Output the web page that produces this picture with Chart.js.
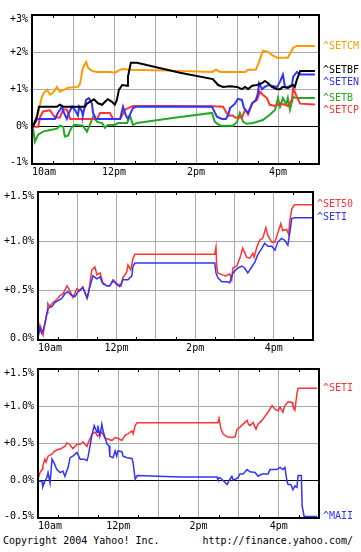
<!DOCTYPE html>
<html><head><meta charset="utf-8">
<script src="https://cdn.jsdelivr.net/npm/chart.js@4/dist/chart.umd.min.js"></script>
<style>
html,body{margin:0;padding:0;background:#fff;width:361px;height:552px;overflow:hidden;position:relative;}
canvas{position:absolute;left:0;}
.txt{position:absolute;font:10px "DejaVu Sans Mono",monospace;color:#000;white-space:pre;line-height:12px;}
</style></head><body>
<canvas id="c1" width="361" height="180" style="top:0px"></canvas>
<canvas id="c2" width="361" height="180" style="top:180px"></canvas>
<canvas id="c3" width="361" height="172" style="top:360px"></canvas>
<div class="txt" style="left:3px;top:535px">Copyright 2004 Yahoo! Inc.</div>
<div class="txt" style="right:8px;top:535px">http://finance.yahoo.com/</div>
<script>
// ---------- data (time in decimal hours, value in %) ----------
const xTickHours = [10, 12, 14, 16];
const xTickLabels = ['10am', '12pm', '2pm', '4pm'];

const p1TickValues = [-1, 0, 1, 2, 3];
const p1TickLabels = ['-1%', '0%', '+1%', '+2%', '+3%'];
const p2TickValues = [0, 0.5, 1, 1.5];
const p2TickLabels = ['0.0%', '+0.5%', '+1.0%', '+1.5%'];
const p3TickValues = [-0.5, 0, 0.5, 1, 1.5];
const p3TickLabels = ['-0.5%', '0.0%', '+0.5%', '+1.0%', '+1.5%'];

const SETCM = [[10.02,0],[10.10,0.20],[10.15,0.37],[10.24,0.80],[10.29,0.91],[10.37,0.99],[10.44,0.86],[10.51,0.91],[10.61,1.07],[10.68,0.94],[10.78,0.99],[10.88,1.05],[11.12,1.07],[11.17,1.15],[11.24,1.58],[11.32,1.74],[11.37,1.58],[11.46,1.50],[11.59,1.47],[11.90,1.47],[12.02,1.45],[12.10,1.50],[12.20,1.55],[12.39,1.53],[13.61,1.50],[14.39,1.47],[14.49,1.53],[14.59,1.47],[15.20,1.47],[15.27,1.53],[15.46,1.53],[15.54,1.74],[15.63,2.04],[15.76,2.01],[15.85,1.93],[15.98,1.85],[16.24,1.85],[16.37,2.12],[16.46,2.17],[16.90,2.17]];
const SETBF = [[10.02,0],[10.12,0.27],[10.17,0.54],[10.61,0.54],[10.68,0.59],[10.76,0.54],[11.29,0.54],[11.34,0.62],[11.41,0.67],[11.51,0.74],[11.61,0.63],[11.71,0.59],[11.78,0.67],[11.85,0.74],[11.95,0.67],[12.02,0.59],[12.07,0.72],[12.12,0.99],[12.20,1.12],[12.32,1.10],[12.34,1.34],[12.41,1.72],[12.56,1.72],[13.61,1.45],[14.41,1.28],[14.54,1.12],[14.66,1.07],[14.83,1.09],[15.00,1.07],[15.12,1.01],[15.20,1.07],[15.27,1.01],[15.37,1.10],[15.49,1.12],[15.61,1.17],[15.68,1.23],[15.76,1.17],[15.85,1.07],[15.98,1.01],[16.05,1.01],[16.12,1.07],[16.24,1.04],[16.37,1.12],[16.41,1.07],[16.46,1.26],[16.54,1.50],[16.90,1.50]];
const SETEN = [[10.02,0],[10.12,0.20],[10.15,0.21],[10.56,0.21],[10.63,0.37],[10.73,0.54],[10.78,0.37],[10.85,0.21],[10.90,0.37],[10.98,0.54],[11.05,0.45],[11.12,0.30],[11.15,0.54],[11.22,0.41],[11.24,0.30],[11.32,0.72],[11.39,0.77],[11.46,0.63],[11.49,0.37],[11.56,0.21],[12.15,0.21],[12.22,0.54],[12.29,0.30],[12.34,0.21],[12.41,0.38],[12.46,0.50],[12.56,0.54],[14.39,0.54],[14.51,0.27],[14.63,0.21],[14.73,0.21],[14.78,0.30],[14.83,0.50],[14.95,0.62],[15.02,0.75],[15.12,0.72],[15.17,0.50],[15.27,0.37],[15.37,0.63],[15.46,0.72],[15.51,0.90],[15.54,1.17],[15.61,1.01],[15.68,1.07],[15.76,1.12],[15.98,1.07],[16.05,1.21],[16.12,1.40],[16.17,1.07],[16.24,1.07],[16.34,1.12],[16.37,1.34],[16.46,1.47],[16.54,1.40],[16.90,1.40]];
const SETB = [[10.02,0],[10.07,-0.40],[10.15,-0.21],[10.27,-0.13],[10.44,-0.09],[10.61,-0.05],[10.68,0.03],[10.76,0.00],[10.80,-0.26],[10.88,-0.24],[10.93,-0.10],[10.98,0.00],[11.05,0.05],[11.24,0.03],[11.34,-0.13],[11.41,0.05],[11.49,0.27],[11.59,0.13],[11.71,0.10],[11.78,-0.03],[11.85,0.05],[12.02,0.05],[12.10,0.10],[12.32,0.10],[12.39,0.30],[12.46,0.05],[12.56,0.10],[13.61,0.26],[14.39,0.37],[14.46,0.13],[14.59,0.03],[14.90,0.03],[15.00,0.13],[15.07,0.37],[15.15,0.13],[15.24,0.08],[15.39,0.10],[15.63,0.18],[15.80,0.32],[15.93,0.46],[16.00,0.77],[16.05,0.54],[16.12,0.77],[16.20,0.60],[16.24,0.77],[16.29,0.46],[16.37,0.80],[16.46,0.77],[16.90,0.77]];
const SETCP = [[10.02,0],[10.15,0],[10.20,0.27],[10.27,0.41],[10.44,0.44],[10.51,0.33],[10.56,0.25],[10.68,0.25],[10.76,0.46],[10.85,0.46],[10.93,0.21],[11.59,0.21],[11.66,0.37],[11.90,0.37],[11.98,0.21],[12.15,0.21],[12.27,0.46],[12.46,0.56],[13.41,0.56],[14.39,0.55],[14.66,0.54],[14.78,0.30],[14.90,0.30],[14.95,0.25],[15.12,0.25],[15.20,0.46],[15.27,0.33],[15.37,0.63],[15.49,0.72],[15.56,0.94],[15.63,0.86],[15.73,0.77],[15.80,0.59],[15.93,0.56],[16.05,0.62],[16.17,0.59],[16.24,0.56],[16.34,0.72],[16.37,1.04],[16.46,0.80],[16.54,0.62],[16.90,0.60]];

const SET50 = [[10.00,0.03],[10.05,0.15],[10.08,0.12],[10.13,0.05],[10.18,0.18],[10.23,0.27],[10.25,0.37],[10.30,0.34],[10.38,0.38],[10.48,0.41],[10.56,0.45],[10.64,0.47],[10.74,0.55],[10.81,0.50],[10.89,0.43],[10.99,0.52],[11.06,0.50],[11.14,0.54],[11.25,0.42],[11.29,0.48],[11.37,0.71],[11.45,0.74],[11.50,0.66],[11.58,0.68],[11.65,0.58],[11.75,0.55],[11.83,0.55],[11.91,0.61],[12.01,0.57],[12.08,0.56],[12.12,0.55],[12.16,0.63],[12.26,0.69],[12.29,0.76],[12.36,0.71],[12.42,0.83],[12.47,0.87],[14.50,0.87],[14.53,0.94],[14.55,0.74],[14.58,0.68],[14.63,0.67],[14.70,0.66],[14.78,0.65],[14.88,0.67],[14.93,0.61],[14.96,0.73],[15.06,0.75],[15.14,0.83],[15.21,0.93],[15.31,0.84],[15.39,0.83],[15.47,0.88],[15.50,0.84],[15.57,0.94],[15.64,1.01],[15.72,1.03],[15.80,1.14],[15.85,1.06],[15.95,0.99],[16.03,0.99],[16.10,1.08],[16.18,1.18],[16.23,1.11],[16.33,1.12],[16.38,1.07],[16.41,1.21],[16.46,1.33],[16.53,1.37],[16.99,1.37]];
const SETI_A = [[10.00,0.03],[10.05,0.12],[10.09,0.07],[10.13,0.10],[10.18,0.17],[10.25,0.32],[10.36,0.34],[10.43,0.38],[10.51,0.40],[10.60,0.42],[10.69,0.47],[10.76,0.49],[10.86,0.45],[10.94,0.44],[11.02,0.49],[11.14,0.53],[11.25,0.43],[11.32,0.54],[11.40,0.65],[11.50,0.62],[11.58,0.64],[11.65,0.57],[11.75,0.55],[11.83,0.55],[11.91,0.60],[12.01,0.56],[12.08,0.54],[12.16,0.61],[12.29,0.61],[12.39,0.65],[12.42,0.75],[12.47,0.78],[14.50,0.78],[14.53,0.68],[14.58,0.63],[14.68,0.59],[14.81,0.59],[14.88,0.58],[14.96,0.68],[15.09,0.73],[15.19,0.75],[15.26,0.73],[15.34,0.68],[15.44,0.74],[15.52,0.79],[15.59,0.86],[15.70,0.93],[15.77,0.98],[15.85,0.95],[15.95,0.95],[16.03,0.91],[16.10,0.99],[16.20,1.03],[16.28,1.01],[16.36,0.96],[16.41,1.09],[16.46,1.23],[16.53,1.24],[16.99,1.24]];

const SETI_B = [[10.00,0.02],[10.05,0.11],[10.10,0.15],[10.12,0.20],[10.17,0.29],[10.20,0.25],[10.25,0.33],[10.35,0.36],[10.42,0.40],[10.50,0.42],[10.57,0.43],[10.67,0.46],[10.72,0.51],[10.80,0.48],[10.87,0.43],[10.97,0.49],[11.05,0.49],[11.12,0.52],[11.22,0.46],[11.25,0.51],[11.35,0.63],[11.42,0.65],[11.49,0.60],[11.59,0.65],[11.67,0.57],[11.74,0.56],[11.84,0.54],[11.92,0.58],[11.99,0.57],[12.09,0.54],[12.17,0.61],[12.24,0.63],[12.34,0.67],[12.37,0.63],[12.42,0.74],[12.47,0.78],[14.48,0.78],[14.51,0.84],[14.56,0.69],[14.61,0.63],[14.71,0.59],[14.83,0.58],[14.91,0.59],[14.96,0.69],[15.03,0.72],[15.11,0.76],[15.21,0.81],[15.24,0.76],[15.28,0.74],[15.36,0.78],[15.43,0.69],[15.48,0.76],[15.58,0.81],[15.66,0.87],[15.73,0.92],[15.83,1.01],[15.90,0.96],[15.98,0.94],[16.03,0.99],[16.10,0.92],[16.15,1.01],[16.23,1.06],[16.33,1.05],[16.35,1.01],[16.40,0.95],[16.45,1.17],[16.48,1.24],[16.95,1.24]];
const MAII = [[10.00,0.00],[10.10,-0.01],[10.12,-0.08],[10.17,-0.01],[10.22,0.04],[10.25,0.11],[10.30,-0.03],[10.35,0.29],[10.40,0.24],[10.47,0.15],[10.55,0.11],[10.62,0.13],[10.67,0.06],[10.75,0.18],[10.80,0.31],[10.87,0.33],[10.97,0.38],[11.05,0.29],[11.15,0.29],[11.22,0.27],[11.25,0.33],[11.35,0.63],[11.40,0.74],[11.47,0.65],[11.49,0.74],[11.54,0.60],[11.59,0.76],[11.62,0.67],[11.67,0.58],[11.72,0.49],[11.77,0.47],[11.79,0.33],[11.87,0.31],[11.92,0.40],[11.96,0.33],[11.99,0.40],[12.09,0.39],[12.12,0.33],[12.22,0.31],[12.34,0.30],[12.37,0.24],[12.42,0.02],[12.47,0.07],[13.54,0.05],[14.46,0.05],[14.48,0.02],[14.53,0.04],[14.58,0.02],[14.71,-0.05],[14.76,0.00],[14.83,0.06],[14.86,0.01],[14.91,0.02],[14.98,0.04],[15.03,0.09],[15.11,0.09],[15.21,0.15],[15.28,0.12],[15.41,0.11],[15.48,0.06],[15.58,0.09],[15.73,0.09],[15.78,0.15],[15.95,0.15],[16.03,0.18],[16.10,0.15],[16.15,0.18],[16.20,0.00],[16.23,-0.05],[16.30,-0.05],[16.35,-0.12],[16.40,-0.07],[16.45,-0.09],[16.48,0.07],[16.56,0.07],[16.58,-0.34],[16.63,-0.48],[16.95,-0.48]];

// ---------- rendering ----------
const FONT = '"DejaVu Sans Mono", monospace';
Chart.defaults.font.family = FONT;
Chart.defaults.font.size = 10;
Chart.defaults.color = '#000';

const C = {orange:'#ff9900', black:'#000000', blue:'#3333ff', green:'#22aa22', red:'#ff3333'};

const overlay = {
  id: 'overlay',
  afterDraw(chart, args, o) {
    const ctx = chart.ctx, ca = chart.chartArea, xs = chart.scales.x, ys = chart.scales.y;
    ctx.save();
    // half-hour tick marks
    ctx.strokeStyle = '#000'; ctx.lineWidth = 1;
    ctx.beginPath();
    for (let h = 10.5; h < 17; h += 1) {
      const px = Math.round(xs.getPixelForValue(h)) + 0.5;
      ctx.moveTo(px, ca.bottom); ctx.lineTo(px, ca.bottom - 3);
      ctx.moveTo(px, ca.top); ctx.lineTo(px, ca.top + 3);
    }
    ctx.stroke();
    // frame
    ctx.lineWidth = 2;
    ctx.strokeRect(ca.left, ca.top, ca.right - ca.left, ca.bottom - ca.top);
    // y labels
    ctx.font = '10px ' + FONT; ctx.fillStyle = '#000';
    ctx.textAlign = 'right'; ctx.textBaseline = 'middle';
    o.yVals.forEach((v, i) => {
      let py = ys.getPixelForValue(v);
      py = Math.min(Math.max(py, ca.top + 4.5), ca.bottom - 1.5);
      ctx.fillText(o.yLabels[i], ca.left - 4, py);
    });
    // right-side series labels
    const items = chart.data.datasets.map(d => ({
      name: d.label, color: d.borderColor,
      y: ys.getPixelForValue(d.data[d.data.length - 1].y)
    })).sort((a, b) => a.y - b.y);
    for (let i = 1; i < items.length; i++) {
      if (items[i].y < items[i - 1].y + 12) items[i].y = items[i - 1].y + 12;
    }
    ctx.textAlign = 'left';
    items.forEach(it => { ctx.fillStyle = it.color; ctx.fillText(it.name, ca.right + 4, it.y); });
    ctx.restore();
  }
};

function makePanel(id, geo, series, yMin, yMax, yStep, yVals, yLabels, lw) {
  const cv = document.getElementById(id);
  const H = cv.height;
  const hx = 14;
  new Chart(cv, {
    type: 'line',
    data: {
      datasets: series.map(s => ({
        label: s.name,
        data: s.data.map(p => ({x: p[0], y: p[1]})),
        borderColor: s.color, backgroundColor: s.color,
        borderWidth: lw, pointRadius: 0, tension: 0, fill: false
      }))
    },
    options: {
      responsive: false, animation: false, devicePixelRatio: 1,
      events: [],
      layout: {padding: {top: geo.top, left: 0, right: 361 - geo.right, bottom: H - geo.bottom - hx}},
      plugins: {legend: {display: false}, tooltip: {enabled: false}, overlay: {yVals, yLabels}},
      scales: {
        x: {
          type: 'linear', min: 10, max: 17,
          afterFit: s => { s.height = hx; },
          border: {display: false},
          grid: {drawTicks: false, color: c => (c.tick && Number.isInteger(c.tick.value)) ? '#aaaaaa' : 'rgba(0,0,0,0)'},
          ticks: {
            stepSize: 0.5, autoSkip: false, maxRotation: 0, align: 'inner', padding: 2,
            color: '#000', font: {size: 10, family: FONT},
            callback: v => { const i = xTickHours.indexOf(v); return i >= 0 ? xTickLabels[i] : ''; }
          }
        },
        y: {
          min: yMin, max: yMax,
          afterFit: s => { s.width = geo.left; },
          border: {display: false},
          grid: {drawTicks: false, color: c => (c.tick && c.tick.value === 0) ? '#000000' : '#aaaaaa'},
          ticks: {display: false, stepSize: yStep}
        }
      }
    },
    plugins: [overlay]
  });
}

makePanel('c1', {top: 15, bottom: 164, left: 32, right: 319}, [
  {name: '^SETBF', data: SETBF, color: C.black},
  {name: '^SETEN', data: SETEN, color: C.blue},
  {name: '^SETCP', data: SETCP, color: C.red},
  {name: '^SETB', data: SETB, color: C.green},
  {name: '^SETCM', data: SETCM, color: C.orange}
], -1, 3, 1, p1TickValues, p1TickLabels, 2);

makePanel('c2', {top: 12, bottom: 160, left: 38, right: 313}, [
  {name: '^SETI', data: SETI_A, color: C.blue},
  {name: '^SET50', data: SET50, color: C.red}
], 0, 1.5, 0.5, p2TickValues, p2TickLabels, 1.5);

makePanel('c3', {top: 9, bottom: 158, left: 38, right: 319}, [
  {name: '^MAII', data: MAII, color: C.blue},
  {name: '^SETI', data: SETI_B, color: C.red}
], -0.5, 1.5, 0.5, p3TickValues, p3TickLabels, 1.5);
</script>
</body></html>
